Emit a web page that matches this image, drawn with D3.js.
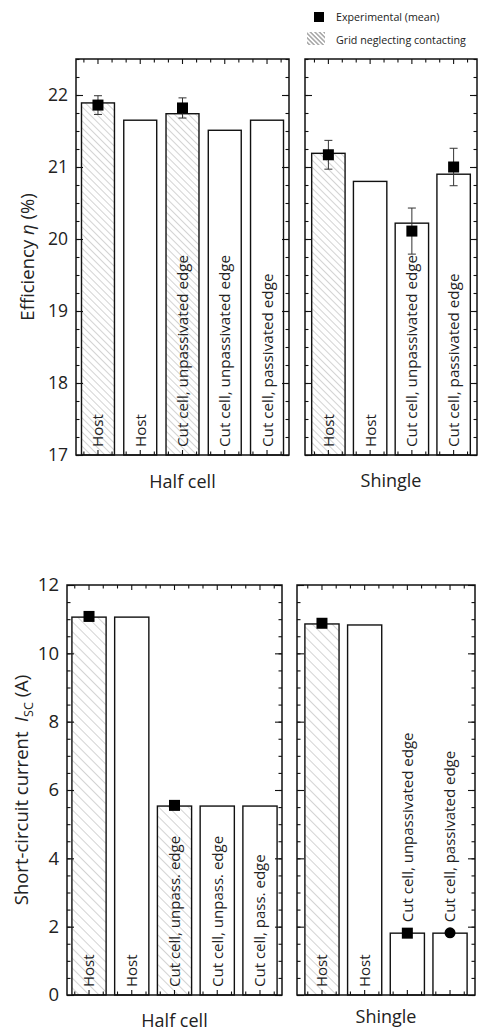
<!DOCTYPE html>
<html>
<head>
<meta charset="utf-8">
<script src="https://cdn.jsdelivr.net/npm/d3@7/dist/d3.min.js"></script>
<style>
  body { margin: 0; background: #fff; }
  svg { display: block; font-family: "Open Sans", "Noto Sans", sans-serif; }
</style>
</head>
<body>
<svg id="chart" width="491" height="1032"></svg>
<script>
// ---- data ----
const effHalfLabels = ['Host', 'Host', 'Cut cell, unpassivated edge', 'Cut cell, unpassivated edge', 'Cut cell, passivated edge'];
const effShingleLabels = ['Host', 'Host', 'Cut cell, unpassivated edge', 'Cut cell, passivated edge'];
const iscHalfLabels = ['Host', 'Host', 'Cut cell, unpass. edge', 'Cut cell, unpass. edge', 'Cut cell, pass. edge'];
const iscShingleLabels = ['Host', 'Host', 'Cut cell, unpassivated edge', 'Cut cell, passivated edge'];

// true = "Grid neglecting contacting" (hatched)
const halfGrid = [true, false, true, false, false];
const shingleGrid = [true, false, false, false];

const effHalf = [21.89, 21.65, 21.74, 21.51, 21.65];
const effShingle = [21.19, 20.80, 20.22, 20.90];
const effHalfExp = [21.86, null, 21.82, null, null];
const effHalfErr = [0.13, null, 0.14, null, null];
const effShingleExp = [21.17, null, 20.11, 21.00];
const effShingleErr = [0.20, null, 0.32, 0.26];

const iscHalf = [11.06, 11.06, 5.53, 5.53, 5.53];
const iscShingle = [10.86, 10.83, 1.81, 1.81];
const iscHalfExp = [11.08, null, 5.55, null, null];
const iscShingleExp = [10.88, null, 1.81, 1.82];
const iscShingleShape = ['square', null, 'square', 'circle'];

const effTicks = [17, 18, 19, 20, 21, 22];
const iscTicks = [0, 2, 4, 6, 8, 10, 12];

const groupNames = ['Half cell', 'Shingle'];
const legendLabels = ['Experimental (mean)', 'Grid neglecting contacting'];

const svg = d3.select('#chart');
const defs = svg.append('defs');

// diagonal hatch patterns
function makeHatch(id, gap, color, width) {
    const p = defs.append('pattern')
        .attr('id', id)
        .attr('patternUnits', 'userSpaceOnUse')
        .attr('width', gap)
        .attr('height', gap)
        .attr('patternTransform', 'rotate(-45)');
    p.append('rect').attr('width', gap).attr('height', gap).attr('fill', '#fff');
    p.append('line')
        .attr('x1', gap / 2).attr('x2', gap / 2)
        .attr('y1', 0).attr('y2', gap)
        .attr('stroke', color).attr('stroke-width', width);
}
makeHatch('hatchTop', 5, '#c8c8c8', 0.8);
makeHatch('hatchBot', 7, '#c8c8c8', 0.8);
makeHatch('hatchLegend', 3.2, '#555', 0.8);

function panel(o) {
    const g = svg.append('g');
    const y = o.y;
    const yBase = y.range()[0], yTop = y.range()[1];
    const x = d3.scaleBand()
        .domain(d3.range(o.values.length))
        .range([o.x0, o.x1])
        .paddingInner(o.pi)
        .paddingOuter(o.po);
    const bw = x.bandwidth();
    const step = x.step();

    // bars
    g.selectAll('rect.bar').data(o.values).join('rect')
        .attr('class', 'bar')
        .attr('x', (d, i) => x(i))
        .attr('y', d => y(d))
        .attr('width', bw)
        .attr('height', d => yBase - y(d))
        .attr('fill', (d, i) => o.grid[i] ? 'url(#' + o.hatch + ')' : '#fff')
        .attr('stroke', '#111')
        .attr('stroke-width', 1.4);

    // rotated labels inside bars (above the bar when it is too short)
    g.selectAll('text.blab').data(o.labels).join('text')
        .attr('class', 'blab')
        .attr('font-size', o.labelSize)
        .attr('fill', '#222')
        .attr('text-anchor', 'start')
        .attr('dy', '0.36em')
        .text(d => d)
        .each(function (d, i) {
            const len = this.getComputedTextLength();
            const top = y(o.values[i]);
            let start = yBase - 8;
            if (start - len < top + 6) start = top - 11;
            d3.select(this).attr('transform',
                'translate(' + (x(i) + bw / 2) + ',' + start + ') rotate(-90)');
        });

    // error bars and markers
    o.exp.forEach((v, i) => {
        if (v == null) return;
        const cx = x(i) + bw / 2;
        const e = o.err ? o.err[i] : null;
        if (e != null) {
            g.append('line')
                .attr('x1', cx).attr('x2', cx)
                .attr('y1', y(v + e)).attr('y2', y(v - e))
                .attr('stroke', '#333').attr('stroke-width', 1);
            [v + e, v - e].forEach(t => {
                g.append('line')
                    .attr('x1', cx - 4).attr('x2', cx + 4)
                    .attr('y1', y(t)).attr('y2', y(t))
                    .attr('stroke', '#333').attr('stroke-width', 1);
            });
        }
        const shape = o.shapes ? o.shapes[i] : 'square';
        if (shape === 'circle') {
            g.append('circle').attr('cx', cx).attr('cy', y(v)).attr('r', 5.5).attr('fill', '#000');
        } else {
            g.append('rect').attr('x', cx - 5.5).attr('y', y(v) - 5.5)
                .attr('width', 11).attr('height', 11).attr('fill', '#000');
        }
    });

    // y axes, ticks pointing inward
    const minor = d3.range(y.domain()[0], y.domain()[1] + 1e-9, o.minorStep);
    const left = g.append('g').attr('transform', 'translate(' + o.x0 + ',0)')
        .call(d3.axisLeft(y).tickValues(minor).tickSize(-3.5).tickSizeOuter(0).tickFormat(''));
    left.select('.domain').remove();
    const leftMajor = g.append('g').attr('transform', 'translate(' + o.x0 + ',0)')
        .call(d3.axisLeft(y).tickValues(o.ticks).tickSize(-7).tickSizeOuter(0)
            .tickPadding(8).tickFormat(o.showY ? d3.format('d') : ''));
    leftMajor.select('.domain').remove();
    leftMajor.selectAll('text').attr('font-size', o.tickSize).attr('fill', '#222')
        .attr('font-family', '"Open Sans", sans-serif');

    const right = g.append('g').attr('transform', 'translate(' + o.x1 + ',0)')
        .call(d3.axisRight(y).tickValues(minor).tickSize(-3.5).tickSizeOuter(0).tickFormat(''));
    right.select('.domain').remove();
    const rightMajor = g.append('g').attr('transform', 'translate(' + o.x1 + ',0)')
        .call(d3.axisRight(y).tickValues(o.ticks).tickSize(-7).tickSizeOuter(0).tickFormat(''));
    rightMajor.select('.domain').remove();
    g.selectAll('.tick line').attr('stroke', '#111').attr('stroke-width', 1.1);

    // x ticks (major at band centres, two minor between)
    const xt = [];
    o.values.forEach((d, i) => {
        const c = x(i) + bw / 2;
        xt.push({ p: c, len: 5 });
        xt.push({ p: c - step / 3, len: 3.5 });
        xt.push({ p: c + step / 3, len: 3.5 });
    });
    [yTop, yBase].forEach(yy => {
        const dir = yy === yTop ? 1 : -1;
        g.selectAll(null).data(xt.filter(t => t.p > o.x0 + 1 && t.p < o.x1 - 1)).join('line')
            .attr('x1', t => t.p).attr('x2', t => t.p)
            .attr('y1', yy).attr('y2', t => yy + dir * t.len)
            .attr('stroke', '#111').attr('stroke-width', 1.1);
    });

    // frame
    g.append('rect')
        .attr('x', o.x0).attr('y', yTop)
        .attr('width', o.x1 - o.x0).attr('height', yBase - yTop)
        .attr('fill', 'none').attr('stroke', '#111').attr('stroke-width', 1.5);

    // group name
    g.append('text')
        .attr('x', (o.x0 + o.x1) / 2).attr('y', o.titleY)
        .attr('text-anchor', 'middle')
        .attr('font-size', 18).attr('fill', '#222')
        .text(o.title);
}

// ---- top: efficiency ----
const yEff = d3.scaleLinear().domain([17, 22.5]).range([455, 59]);
panel({ x0: 76, x1: 289, y: yEff, values: effHalf, labels: effHalfLabels, grid: halfGrid,
    exp: effHalfExp, err: effHalfErr, hatch: 'hatchTop', pi: 0.22, po: 0.13,
    ticks: effTicks, minorStep: 0.25, showY: true, tickSize: 17.5, labelSize: 15.2,
    title: groupNames[0], titleY: 488 });
panel({ x0: 305, x1: 477, y: yEff, values: effShingle, labels: effShingleLabels, grid: shingleGrid,
    exp: effShingleExp, err: effShingleErr, hatch: 'hatchTop', pi: 0.2, po: 0.16,
    ticks: effTicks, minorStep: 0.25, showY: false, tickSize: 17.5, labelSize: 15.2,
    title: groupNames[1], titleY: 487 });

// ---- bottom: short-circuit current ----
const yIsc = d3.scaleLinear().domain([0, 12]).range([995, 585]);
panel({ x0: 67, x1: 282, y: yIsc, values: iscHalf, labels: iscHalfLabels, grid: halfGrid,
    exp: iscHalfExp, err: null, hatch: 'hatchBot', pi: 0.2, po: 0.115,
    ticks: iscTicks, minorStep: 0.5, showY: true, tickSize: 18.5, labelSize: 15,
    title: groupNames[0], titleY: 1027 });
panel({ x0: 297, x1: 475, y: yIsc, values: iscShingle, labels: iscShingleLabels, grid: shingleGrid,
    exp: iscShingleExp, err: null, shapes: iscShingleShape, hatch: 'hatchBot', pi: 0.2, po: 0.185,
    ticks: iscTicks, minorStep: 0.5, showY: false, tickSize: 18.5, labelSize: 15,
    title: groupNames[1], titleY: 1023 });

// y axis titles
const t1 = svg.append('text')
    .attr('transform', 'translate(28,' + (yEff(17) + yEff(22.5)) / 2 + ') rotate(-90)')
    .attr('text-anchor', 'middle').attr('dy', '0.35em')
    .attr('font-size', 18.5).attr('fill', '#222');
t1.append('tspan').text('Efficiency ');
t1.append('tspan').attr('font-style', 'italic').text('η');
t1.append('tspan').text(' (%)');

const t2 = svg.append('text')
    .attr('transform', 'translate(22,' + (yIsc(0) + yIsc(12)) / 2 + ') rotate(-90)')
    .attr('text-anchor', 'middle').attr('dy', '0.35em')
    .attr('font-size', 18.5).attr('fill', '#222');
t2.append('tspan').text('Short-circuit current\u00a0\u00a0');
t2.append('tspan').attr('font-style', 'italic').text('I');
t2.append('tspan').attr('font-size', 12.5).attr('dy', '0.35em').text('SC');
t2.append('tspan').attr('dy', '-0.25em').text(' (A)');

// legend
const lg = svg.append('g');
lg.append('rect').attr('x', 314).attr('y', 12).attr('width', 10).attr('height', 10).attr('fill', '#000');
lg.append('text').attr('x', 336).attr('y', 21).attr('font-size', 10.7).attr('fill', '#222').text(legendLabels[0]);
lg.append('rect').attr('x', 307).attr('y', 32).attr('width', 18).attr('height', 13).attr('fill', 'url(#hatchLegend)');
lg.append('text').attr('x', 336).attr('y', 44).attr('font-size', 10.7).attr('fill', '#222').text(legendLabels[1]);
</script>
</body>
</html>
